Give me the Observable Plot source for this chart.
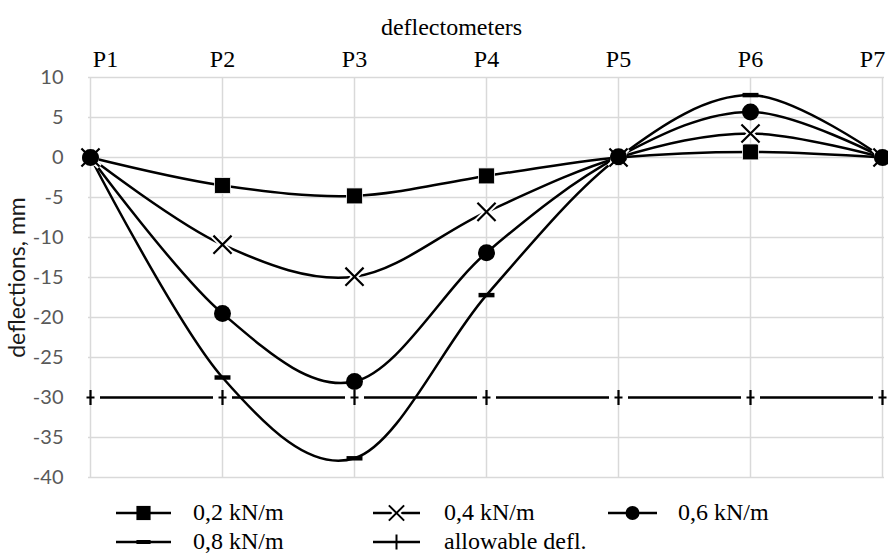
<!DOCTYPE html>
<html><head><meta charset="utf-8">
<script src="https://cdn.jsdelivr.net/npm/d3@7"></script>
<script src="https://cdn.jsdelivr.net/npm/@observablehq/plot@0.6"></script>
<style>
html,body{margin:0;padding:0;background:#fff;width:888px;height:553px;overflow:hidden}
svg{display:block}
</style></head><body>
<div id="chart"></div>
<script>
// ---------- data ----------
const points = ["P1", "P2", "P3", "P4", "P5", "P6", "P7"];
const seriesNames = ["0,2 kN/m", "0,4 kN/m", "0,6 kN/m", "0,8 kN/m", "allowable defl."];
const load02 = [0, -3.5, -4.8, -2.3, 0, 0.7, 0];
const load04 = [0, -10.9, -14.9, -6.8, 0, 3.0, 0];
const load06 = [0, -19.5, -28.0, -11.9, 0.1, 5.7, 0];
const load08 = [0, -27.5, -37.6, -17.2, 0, 7.8, 0];
const allowable = [-30, -30, -30, -30, -30, -30, -30];
const yTicks = [-40, -35, -30, -25, -20, -15, -10, -5, 0, 5, 10];
const xTitle = "deflectometers";
const yTitle = "deflections, mm";

// ---------- build rows ----------
const allSeries = [load02, load04, load06, load08, allowable];
const rows = allSeries.flatMap((vals, i) => vals.map((v, j) => ({series: seriesNames[i], point: points[j], value: v})));
const bySeries = name => rows.filter(r => r.series === name);

// ---------- custom marker symbols ----------
const dashSymbol = {draw(ctx, size) { const w = Math.sqrt(size); const h = w * 0.28; ctx.rect(-w / 2, -h / 2, w, h); }};
const tickSymbol = {draw(ctx) { ctx.moveTo(0, -7.5); ctx.lineTo(0, 7.5); ctx.moveTo(-4, 0); ctx.lineTo(4, 0); }};
const tickHalo = {draw(ctx) { ctx.moveTo(-9.5, 0); ctx.lineTo(9.5, 0); }};

const SERIF = "Liberation Serif";
const SANS = "Lato";

const plot = Plot.plot({
  width: 888,
  height: 490,
  marginTop: 77,
  marginBottom: 13,
  marginLeft: 88,
  marginRight: 4,
  style: {fontFamily: SANS, fontSize: "20px", background: "white", overflow: "visible"},
  x: {type: "point", domain: points, padding: 0, axis: null},
  y: {domain: [-40, 10], axis: null},
  marks: [
    Plot.gridY(yTicks, {stroke: "#d9d9d9", strokeOpacity: 1, strokeWidth: 1.5}),
    Plot.gridX(points, {stroke: "#d9d9d9", strokeOpacity: 1, strokeWidth: 1.5}),
    // load lines (smoothed)
    Plot.line(rows.filter(r => r.series !== seriesNames[4]), {x: "point", y: "value", z: "series", curve: "cardinal", stroke: "black", strokeWidth: 2.5}),
    // allowable line
    Plot.line(bySeries(seriesNames[4]), {x: "point", y: "value", stroke: "black", strokeWidth: 2.5}),
    // markers
    Plot.dot(bySeries(seriesNames[0]), {x: "point", y: "value", symbol: "square", r: 9, fill: "black", stroke: "white", strokeWidth: 0.8}),
    Plot.dot(bySeries(seriesNames[1]), {x: "point", y: "value", symbol: "times", r: 8.3, stroke: "white", strokeWidth: 6}),
    Plot.dot(bySeries(seriesNames[1]), {x: "point", y: "value", symbol: "times", r: 8.3, stroke: "black", strokeWidth: 2.2}),
    Plot.dot(bySeries(seriesNames[2]), {x: "point", y: "value", symbol: "circle", r: 8.5, fill: "black"}),
    Plot.dot(bySeries(seriesNames[3]), {x: "point", y: "value", symbol: dashSymbol, r: 9, fill: "black"}),
    Plot.dot(bySeries(seriesNames[4]), {x: "point", y: "value", symbol: tickHalo, r: 9, fill: "none", stroke: "white", strokeWidth: 4.5}),
    Plot.dot(bySeries(seriesNames[4]), {x: "point", y: "value", symbol: tickSymbol, r: 9, fill: "none", stroke: "black", strokeWidth: 2.2}),
    // y axis
    Plot.axisY(yTicks, {tickSize: 0, tickPadding: 25, tickFormat: d => String(d), color: "#595959", fontSize: 20, fontFamily: SANS, label: null}),
    Plot.text([yTitle], {frameAnchor: "left", textAnchor: "middle", rotate: -90, dx: -71, fontSize: 23, fontFamily: SANS, fill: "#1a1a1a"}),
    // top x labels (serif)
    Plot.text(points.filter((p, i) => i > 0 && i < points.length - 1), {x: d => d, frameAnchor: "top", dy: -27.5, fontSize: 24, fontFamily: SERIF, fill: "black"}),
    Plot.text(points.slice(0, 1), {x: d => d, frameAnchor: "top", dy: -27.5, dx: 15, fontSize: 24, fontFamily: SERIF, fill: "black"}),
    Plot.text(points.slice(-1), {x: d => d, frameAnchor: "top", dy: -27.5, dx: -10, fontSize: 24, fontFamily: SERIF, fill: "black"}),
    Plot.text([xTitle], {frameAnchor: "top", dx: -35, dy: -60, fontSize: 24, fontFamily: SERIF, fill: "black"})
  ]
});
document.getElementById("chart").appendChild(plot);

// ---------- legend ----------
const legendLayout = [
  {x0: 116, x1: 171, tx: 193, cy: 23},
  {x0: 373, x1: 420, tx: 444, cy: 23},
  {x0: 608, x1: 657, tx: 678, cy: 23},
  {x0: 116, x1: 171, tx: 193, cy: 52},
  {x0: 373, x1: 420, tx: 444, cy: 52}
];
const lg = d3.select("#chart").append("svg").attr("width", 888).attr("height", 63);
const sym = (type, r) => d3.symbol(type, Math.PI * r * r)();
legendLayout.forEach((L, i) => {
  const g = lg.append("g");
  const cx = (L.x0 + L.x1) / 2;
  g.append("line").attr("x1", L.x0).attr("x2", L.x1).attr("y1", L.cy).attr("y2", L.cy).attr("stroke", "black").attr("stroke-width", 2.5);
  const t = `translate(${cx},${L.cy})`;
  if (i === 0) g.append("path").attr("d", sym(d3.symbolSquare, 8)).attr("transform", t).attr("fill", "black");
  if (i === 1) {
    g.append("path").attr("d", sym(d3.symbolTimes, 7)).attr("transform", t).attr("stroke", "white").attr("stroke-width", 6).attr("fill", "none");
    g.append("path").attr("d", sym(d3.symbolTimes, 7)).attr("transform", t).attr("stroke", "black").attr("stroke-width", 2).attr("fill", "none");
  }
  if (i === 2) g.append("path").attr("d", sym(d3.symbolCircle, 7)).attr("transform", t).attr("fill", "black");
  if (i === 3) g.append("path").attr("d", sym(dashSymbol, 8)).attr("transform", t).attr("fill", "black");
  if (i === 4) g.append("path").attr("d", sym(tickSymbol, 8.5)).attr("transform", t).attr("stroke", "black").attr("stroke-width", 2).attr("fill", "none");
  g.append("text").attr("x", L.tx).attr("y", L.cy + 6.5).text(seriesNames[i])
    .attr("font-family", SERIF).attr("font-size", 24).attr("fill", "black");
});
</script>
</body></html>
